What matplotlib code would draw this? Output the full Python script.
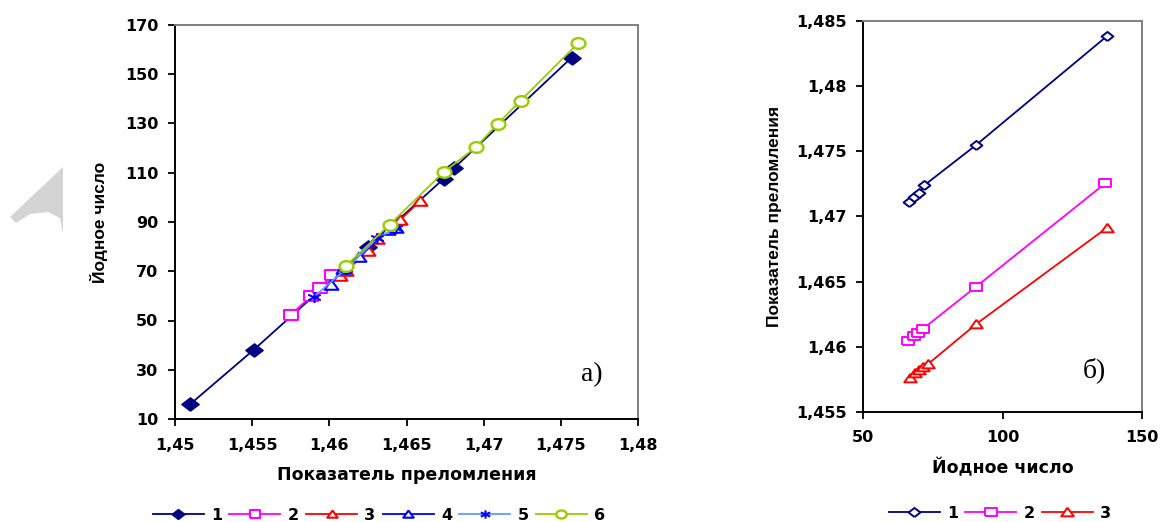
import numpy as np
import matplotlib
matplotlib.use("Agg")
import matplotlib.pyplot as plt
from matplotlib.path import Path
from matplotlib.patches import Polygon
from matplotlib.ticker import FuncFormatter, MultipleLocator

plt.rcParams['font.family'] = ['DejaVu Sans']
plt.rcParams['font.weight'] = 'bold'

# --- chart a): iodine number vs refractive index ---
a_n1 = [1.4510, 1.4551, 1.4625, 1.4674, 1.4681, 1.4757]
a_i1 = [16.1, 38.1, 79.7, 107.5, 112.0, 156.8]
a_n2 = [1.4575, 1.4588, 1.4594, 1.4602]
a_i2 = [52.3, 59.8, 63.3, 68.6]
a_n3 = [1.4607, 1.4611, 1.4625, 1.4631, 1.4646, 1.4659]
a_i3 = [68.1, 70.2, 78.2, 83.0, 91.0, 98.6]
a_n4 = [1.4601, 1.4609, 1.4619, 1.4638, 1.4643]
a_i4 = [64.6, 71.0, 75.6, 86.6, 87.4]
a_n5 = [1.4590, 1.4611, 1.4631, 1.4643]
a_i5 = [59.6, 71.0, 83.4, 87.5]
a_n6 = [1.4611, 1.4639, 1.4674, 1.4695, 1.4709, 1.4724, 1.4761]
a_i6 = [72.3, 88.9, 110.2, 120.4, 129.8, 139.3, 162.5]

# --- chart б): refractive index vs iodine number ---
b_i1 = [66.5, 68.4, 70.2, 72.0, 90.4, 137.5]
b_n1 = [1.47113, 1.47148, 1.47183, 1.47240, 1.47546, 1.48385]
b_i2 = [66.2, 68.4, 69.8, 71.6, 90.5, 136.8]
b_n2 = [1.46045, 1.46083, 1.46108, 1.46140, 1.46461, 1.47254]
b_i3 = [66.8, 68.6, 70.2, 71.6, 73.2, 90.4, 137.5]
b_n3 = [1.45763, 1.45797, 1.45822, 1.45845, 1.45866, 1.46172, 1.46915]

labels_a = ['1', '2', '3', '4', '5', '6']
labels_b = ['1', '2', '3']

# the scanned picture is stretched sideways, so the markers are too
SX = 1.3


def wide(verts, codes=None):
    v = np.array(verts, dtype=float)
    v[:, 0] *= SX
    return Path(v, codes)


M_DIAMOND = wide([(0, -1), (1, 0), (0, 1), (-1, 0), (0, -1)])
M_SQUARE = wide([(-1, -1), (1, -1), (1, 1), (-1, 1), (-1, -1)])
M_TRI = wide([(0, 1), (-1, -0.8), (1, -0.8), (0, 1)])
_c = Path.unit_circle()
M_CIRCLE = wide(_c.vertices, _c.codes)
_ang = np.deg2rad([90, 30, -30])
_star = []
for t in _ang:
    _star += [(np.cos(t), np.sin(t)), (-np.cos(t), -np.sin(t))]
M_STAR = wide(_star, [Path.MOVETO, Path.LINETO] * 3)


def comma(v, pos):
    s = ('%.3f' % v).rstrip('0').rstrip('.')
    return s.replace('.', ',')


def style_axes(ax, xpad, ypad):
    for side in ['top', 'right']:
        ax.spines[side].set_color('#808080')
    for side in ['left', 'bottom']:
        ax.spines[side].set_color('black')
    for sp in ax.spines.values():
        sp.set_linewidth(1.4)
    ax.tick_params(direction='out', length=5, width=1.3, labelsize=11.5, colors='black')
    ax.tick_params(axis='x', pad=xpad)
    ax.tick_params(axis='y', pad=ypad)
    for lab in ax.get_xticklabels() + ax.get_yticklabels():
        lab.set_fontweight('bold')


fig = plt.figure(figsize=(11.6, 5.22), dpi=100)
W, H = 1160, 522

# grey scrap of the page watermark on the left edge
fig.patches.append(Polygon(
    [(63 / W, 1 - 167 / H), (10 / W, 1 - 217 / H), (16 / W, 1 - 223 / H), (30 / W, 1 - 214 / H),
     (48 / W, 1 - 212 / H), (60 / W, 1 - 218 / H), (63 / W, 1 - 233 / H)],
    closed=True, transform=fig.transFigure, facecolor='#D4D4D4', edgecolor='none', zorder=0))

ax1 = fig.add_axes([175 / W, 1 - 419 / H, (638 - 175) / W, (419 - 25) / H])
ax2 = fig.add_axes([863 / W, 1 - 412 / H, (1142 - 863) / W, (412 - 21) / H])

lw = 1.3
ax1.plot(a_n1, a_i1, color='#000080', lw=lw, marker=M_DIAMOND, ms=12.5, mfc='#000080', mec='#000080', label=labels_a[0])
ax1.plot(a_n2, a_i2, color='#FF00FF', lw=lw, marker=M_SQUARE, ms=9.5, mfc='white', mec='#FF00FF', mew=1.5, label=labels_a[1])
ax1.plot(a_n3, a_i3, color='#FF0000', lw=lw, marker=M_TRI, ms=10, mfc='white', mec='#FF0000', mew=1.5, label=labels_a[2])
ax1.plot(a_n4, a_i4, color='#0000FF', lw=lw, marker=M_TRI, ms=10, mfc='white', mec='#0000FF', mew=1.5, label=labels_a[3])
ax1.plot(a_n5, a_i5, color='#6699FF', lw=lw, marker=M_STAR, ms=9, mec='#0000FF', mew=1.5, label=labels_a[4])
ax1.plot(a_n6, a_i6, color='#99CC00', lw=lw, marker=M_CIRCLE, ms=10, mfc='white', mec='#99CC00', mew=1.7, label=labels_a[5])

ax1.set_xlim(1.45, 1.48)
ax1.set_ylim(10, 170)
ax1.xaxis.set_major_locator(MultipleLocator(0.005))
ax1.set_yticks(np.arange(10, 171, 20))
ax1.xaxis.set_major_formatter(FuncFormatter(comma))
ax1.set_xlabel('Показатель преломления', fontsize=12.5, fontweight='bold', labelpad=9)
ax1.set_ylabel('Йодное число', fontsize=12.5, fontweight='bold', labelpad=12,
               family='Liberation Sans')
ax1.text(0.90, 0.112, 'а)', transform=ax1.transAxes, ha='center', va='center',
         fontsize=20, fontweight='normal', family='Liberation Serif')
style_axes(ax1, 9, 7)

ax2.plot(b_i1, b_n1, color='#000080', lw=lw, marker=M_DIAMOND, ms=8.5, mfc='white', mec='#000080', mew=1.4, label=labels_b[0])
ax2.plot(b_i2, b_n2, color='#FF00FF', lw=lw, marker=M_SQUARE, ms=8, mfc='white', mec='#FF00FF', mew=1.4, label=labels_b[1])
ax2.plot(b_i3, b_n3, color='#FF0000', lw=lw, marker=M_TRI, ms=9, mfc='white', mec='#FF0000', mew=1.4, label=labels_b[2])

ax2.set_xlim(50, 150)
ax2.set_ylim(1.455, 1.485)
ax2.xaxis.set_major_locator(MultipleLocator(50))
ax2.yaxis.set_major_locator(MultipleLocator(0.005))
ax2.yaxis.set_major_formatter(FuncFormatter(comma))
ax2.set_xlabel('Йодное число', fontsize=12.5, fontweight='bold', labelpad=9)
ax2.set_ylabel('Показатель преломления', fontsize=12.5, fontweight='bold', labelpad=10,
               family='Liberation Sans')
ax2.text(0.83, 0.107, 'б)', transform=ax2.transAxes, ha='center', va='center',
         fontsize=20, fontweight='normal', family='Liberation Serif')
style_axes(ax2, 8, 7)

leg_kw = dict(loc='center', ncol=6, frameon=False, handlelength=3.2, markerscale=0.75,
              columnspacing=0.45, handletextpad=0.45, prop={'weight': 'bold', 'size': 11.5})
h, l = ax1.get_legend_handles_labels()
fig.legend(h, l, bbox_to_anchor=(379 / W, 1 - 515 / H), **leg_kw)
h, l = ax2.get_legend_handles_labels()
leg_kw['ncol'] = 3
leg_kw['markerscale'] = 1.0
fig.legend(h, l, bbox_to_anchor=(1000 / W, 1 - 513 / H), **leg_kw)

fig.savefig('out.png', dpi=100)
